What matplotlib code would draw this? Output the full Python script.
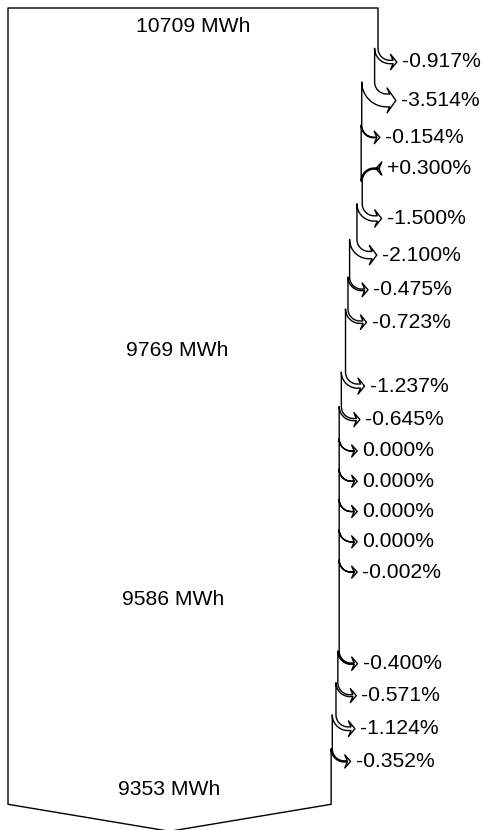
import numpy as np
import matplotlib.pyplot as plt
from matplotlib.path import Path
from matplotlib.patches import PathPatch

# Totals printed inside the trunk (MWh)
totals = [10709, 9769, 9586, 9353]

# Step changes in percent, one list per block between two totals
changes_a = [-0.917, -3.514, -0.154, 0.300, -1.500, -2.100, -0.475, -0.723]
changes_b = [-1.237, -0.645, 0.000, 0.000, 0.000, 0.000, -0.002]
changes_c = [-0.400, -0.571, -1.124, -0.352]

# Layout, in pixels of the 482x830 canvas
left, top = 8, 8
trunk_px = 370      # trunk width for totals[0]
gap = 30.3          # vertical spacing between side flows
rad = 12            # inner radius of the side flow bends
reach = 3           # straight run after the bend
shoulder = 6        # how far the arrow wings stick out past the flow
barb = 2.5          # how far the wings sweep back
pitch = 0.5         # head slope of the side arrows
pitch_out = 0.167   # head slope of the big output arrow
scale = trunk_px / totals[0]
font = dict(family="Liberation Sans", size=15.2)


def arc(cx, cy, r, a0, a1, n=30):
    t = np.linspace(a0, a1, n)
    return list(zip(cx + r * np.cos(t), cy + r * np.sin(t)))


def pct_label(p):
    return f"{p:+.3f}%" if p > 0 else f"{p:.3f}%"


steps = ([("total", 0)] + [("flow", p) for p in changes_a] + [("total", 1)]
         + [("flow", p) for p in changes_b] + [("total", 2), ("blank", None)]
         + [("flow", p) for p in changes_c] + [("total", 3)])

fig = plt.figure(figsize=(4.82, 8.3), dpi=100)
ax = fig.add_axes([0, 0, 1, 1])
ax.set_xlim(0, 482)
ax.set_ylim(830, 0)
ax.axis("off")

value = float(totals[0])
right = left + value * scale
verts = [(left, top), (right, top)]
slot = top + 10
label_y = 0
for kind, v in steps:
    if kind == "total":
        label_y = slot + 9
        ax.text((left + right) / 2, label_y, f"{totals[v]} MWh",
                ha="center", va="center", **font)
        slot += gap
        continue
    if kind == "blank":
        slot += gap
        continue

    amount = value * v / 100
    w = abs(amount) * scale
    if v > 0:
        # inflow: enters from the right and bends down into the trunk
        yb = slot + 2 * rad + w
        cx, cy = right + w + rad, yb
        verts.append((right, yb))
        verts += arc(cx, cy, rad + w, np.pi, 1.5 * np.pi)
        xe = cx + reach + 2
        head_y = cy - rad - w / 2
        dip = (shoulder + w / 2) * pitch
        verts += [(xe, cy - rad - w), (xe + barb, cy - rad - w - shoulder),
                  (xe - dip, head_y), (xe + barb, cy - rad + shoulder),
                  (xe, cy - rad)]
        verts += arc(cx, cy, rad, 1.5 * np.pi, np.pi)
        right += w
        label_x = xe + barb + 5
        slot += 2 * rad + w + 0.75 * gap
    else:
        # outflow: leaves the trunk edge and bends to the right
        yb = slot
        cx, cy = right + rad, yb
        verts.append((right, yb))
        verts += arc(cx, cy, rad, np.pi, 0.5 * np.pi)
        xe = cx + reach
        head_y = cy + rad + w / 2
        tip = xe + (shoulder + w / 2) * pitch
        verts += [(xe, cy + rad), (xe - barb, cy + rad - shoulder),
                  (tip, head_y),
                  (xe - barb, cy + rad + w + shoulder), (xe, cy + rad + w)]
        verts += arc(cx, cy, rad + w, 0.5 * np.pi, np.pi)
        right -= w
        label_x = tip + 5
        slot += w + gap
    value += amount
    ax.text(label_x, head_y, pct_label(v), ha="left", va="center", **font)

# big output arrow at the bottom
bottom = label_y + 15
verts += [(right, bottom),
          ((left + right) / 2, bottom + (right - left) / 2 * pitch_out),
          (left, bottom), (left, top)]
codes = [Path.MOVETO] + [Path.LINETO] * (len(verts) - 2) + [Path.CLOSEPOLY]
ax.add_patch(PathPatch(Path(verts, codes), facecolor="white",
                       edgecolor="black", lw=1.0, joinstyle="round"))

fig.savefig("out.png", dpi=100)
